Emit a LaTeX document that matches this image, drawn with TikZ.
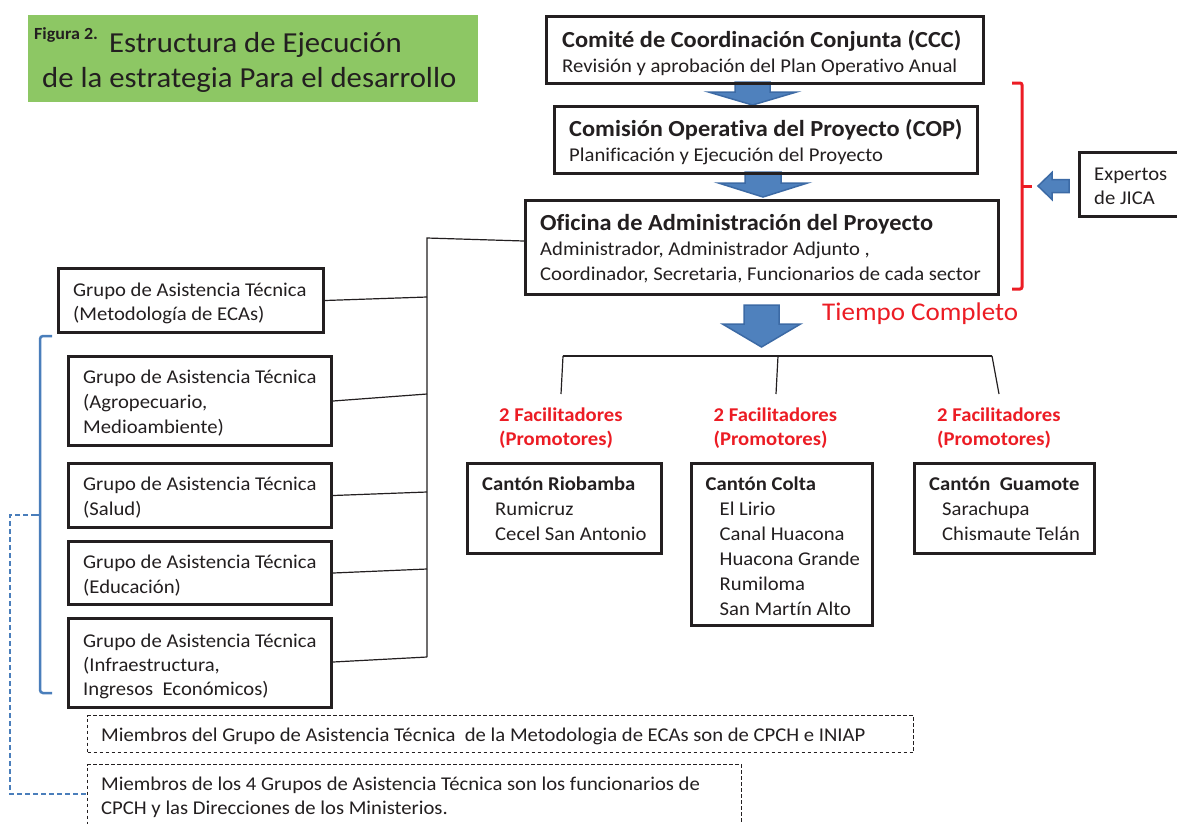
\documentclass[tikz,border=0pt]{standalone}
\usepackage{fontspec}
\setmainfont{Carlito}[FakeStretch=1.06, Ligatures={NoCommon}]
\usetikzlibrary{calc}
\definecolor{ink}{HTML}{231F20}
\definecolor{titlegreen}{HTML}{8DC764}
\definecolor{arrowblue}{HTML}{4F81BD}
\definecolor{arrowedge}{HTML}{3C6AA5}
\definecolor{bracketblue}{HTML}{4A7EBB}
\definecolor{alertred}{HTML}{EC1C24}
\newcommand\bodyfont{\fontsize{19.5}{25}\selectfont}
\newcommand\bodyfontb{\fontsize{19.5}{24}\selectfont}
\newcommand\headfont{\fontsize{23}{25}\selectfont\bfseries}
\newcommand\blockdown[6]{\draw[blockarrow] (#1-#3,#2) -- (#1+#3,#2) -- (#1+#3,#4) -- (#1+#5,#4) -- (#1,#6) -- (#1-#5,#4) -- (#1-#3,#4) -- cycle;}
\begin{document}
\begin{tikzpicture}[x=1pt,y=-1pt,
  box/.style={draw=ink, line width=3pt, inner sep=0pt, anchor=north west},
  txt/.style={inner sep=0pt, anchor=north west, align=left, font=\bodyfont, text=ink},
  wire/.style={draw=ink, line width=1.2pt},
  blockarrow/.style={fill=arrowblue, draw=arrowedge, line width=1.5pt, line join=miter},
  notebox/.style={draw=ink, line width=1.1pt, dash pattern=on 3.5pt off 2.5pt, inner sep=0pt, anchor=north west},
  redbrace/.style={draw=alertred, line width=3pt, rounded corners=2pt},
  bluebrace/.style={draw=bracketblue, line width=2.5pt, rounded corners=3pt},
  bluedash/.style={draw=bracketblue, line width=1.5pt, dash pattern=on 5pt off 3pt},
  factxt/.style={inner sep=0pt, anchor=north west, align=left, font=\bodyfontb\bfseries, text=alertred},
]
\useasboundingbox (0,0) rectangle (1177,823);
\fill[white] (0,0) rectangle (1177,823);

% title
\node[fill=titlegreen, inner sep=0pt, anchor=north west, minimum width=450pt, minimum height=87pt] (title) at (28,15) {};
\node[anchor=base west, inner sep=0pt, font=\fontsize{17}{20}\selectfont\bfseries, text=ink] (fig) at (34,39) {Figura 2.};
\node[anchor=base west, inner sep=0pt, font=\fontsize{29}{35}\selectfont, text=ink] (title1) at (109,52) {Estructura de Ejecución};
\node[anchor=base west, inner sep=0pt, font=\fontsize{29}{35}\selectfont, text=ink] (title2) at (42,87) {de la estrategia Para el desarrollo};

% block arrows
\blockdown{752.5}{82}{17.5}{92}{44}{105}
\blockdown{763}{172}{18}{183}{44.5}{197}
\blockdown{761.5}{305}{17.5}{324}{39}{347}
\draw[blockarrow] (1038,186) -- (1052,172.5) -- (1052,179.5) -- (1069,179.5) -- (1069,192.5) -- (1052,192.5) -- (1052,199.5) -- cycle;

% top boxes
\node[box, minimum width=437pt, minimum height=67pt] (ccc) at (545,15) {};
\node[txt] (ccct) at (562,29.5) {\strut{\headfont Comité de Coordinación Conjunta (CCC)}\\Revisión y aprobación del Plan Operativo Anual};
\node[box, minimum width=423pt, minimum height=67pt] (cop) at (553,105) {};
\node[txt] (copt) at (569,118.5) {\strut{\headfont Comisión Operativa del Proyecto (COP)}\\Planificación y Ejecución del Proyecto};
\node[box, minimum width=473pt, minimum height=94pt] (ofi) at (524,199) {};
\node[txt] (ofit) at (540,212.5) {\strut{\headfont Oficina de Administración del Proyecto}\\Administrador, Administrador Adjunto ,\\Coordinador, Secretaria, Funcionarios de cada sector};

% experts
\node[box, minimum width=130pt, minimum height=64pt] (jica) at (1078,151) {};
\node[txt, font=\bodyfontb] (jicat) at (1094,163.2) {\strut Expertos\\de JICA};
\draw[redbrace] (1012,83) -- (1022,83) -- (1022,289) -- (1012,289);
\draw[redbrace] (1022,186) -- (1032,186);

\node[anchor=base west, inner sep=0pt, font=\fontsize{25.5}{30}\selectfont, text=alertred] (tiempo) at (822,320) {Tiempo Completo};

% tree
\coordinate (tL) at (563,356);
\coordinate (tM) at (778,356);
\coordinate (tR) at (992,356);
\coordinate (dL) at (561,394);
\coordinate (dM) at (776,394);
\coordinate (dR) at (999,394);
\draw[wire] (tL) -- (tM) -- (tR);
\draw[wire] (tL) -- (dL);
\draw[wire] (tM) -- (dM);
\draw[wire] (tR) -- (dR);

\node[factxt] (fac1) at (499,404.2) {\strut 2 Facilitadores\\(Promotores)};
\node[factxt] (fac2) at (713.5,404.2) {\strut 2 Facilitadores\\(Promotores)};
\node[factxt] (fac3) at (937,404.2) {\strut 2 Facilitadores\\(Promotores)};

\node[box, minimum width=194pt, minimum height=90pt] (rio) at (466,462) {};
\node[txt] (riot) at (482,472.5) {\strut\textbf{Cantón Riobamba}\\\hspace*{13pt}Rumicruz\\\hspace*{13pt}Cecel San Antonio};
\node[box, minimum width=181pt, minimum height=162pt] (colta) at (690,462) {};
\node[txt] (coltat) at (705.5,472.5) {\strut\textbf{Cantón Colta}\\\hspace*{14pt}El Lirio\\\hspace*{14pt}Canal Huacona\\\hspace*{14pt}Huacona Grande\\\hspace*{14pt}Rumiloma\\\hspace*{14pt}San Martín Alto};
\node[box, minimum width=180pt, minimum height=90pt] (guam) at (913,462) {};
\node[txt] (guamt) at (929,472.5) {\strut\textbf{Cantón\ \ Guamote}\\\hspace*{13pt}Sarachupa\\\hspace*{13pt}Chismaute Telán};

% technical groups
\node[box, minimum width=265pt, minimum height=64pt] (gat1) at (57,267) {};
\node[txt, font=\bodyfontb] (gat1t) at (73,279.2) {\strut Grupo de Asistencia Técnica\\(Metodología de ECAs)};
\node[box, minimum width=263pt, minimum height=89pt] (gat2) at (67,355) {};
\node[txt] (gat2t) at (83,365.5) {\strut Grupo de Asistencia Técnica\\(Agropecuario,\\Medioambiente)};
\node[box, minimum width=263pt, minimum height=64pt] (gat3) at (67,462) {};
\node[txt] (gat3t) at (83,472.5) {\strut Grupo de Asistencia Técnica\\(Salud)};
\node[box, minimum width=263pt, minimum height=63pt] (gat4) at (67,540) {};
\node[txt] (gat4t) at (83,550.5) {\strut Grupo de Asistencia Técnica\\(Educación)};
\node[box, minimum width=263pt, minimum height=89pt] (gat5) at (67,617) {};
\node[txt, font=\bodyfontb] (gat5t) at (83,630.2) {\strut Grupo de Asistencia Técnica\\(Infraestructura,\\Ingresos\ \ Económicos)};

% bus
\coordinate (busTop) at (427,238);
\coordinate (busBot) at (427,657);
\coordinate (b1) at (427,297);
\coordinate (b2) at (427,394);
\coordinate (b3) at (427,492);
\coordinate (b4) at (427,569);
\draw[wire] ($(ofi.north west)+(0,42)$) -- (busTop) -- (busBot);
\draw[wire] (gat1.east) -- (b1);
\draw[wire] (gat2.east) -- (b2);
\draw[wire] (gat3.east) -- (b3);
\draw[wire] (gat4.east) -- (b4);
\draw[wire] ($(gat5.north east)+(0,45)$) -- (busBot);

% blue brace and dashed link
\draw[bluebrace] (52,336) -- (40,336) -- (40,693) -- (52,693);
\draw[bluebrace] (40,515) -- (35,515);

% notes
\node[notebox, minimum width=826pt, minimum height=37pt] (note1) at (87,715) {};
\node[anchor=base west, inner sep=0pt, font=\bodyfont, text=ink] (note1t) at (101,741) {Miembros del Grupo de Asistencia Técnica\ \ de la Metodologia de ECAs son de CPCH e INIAP};
\node[notebox, minimum width=654pt, minimum height=75pt] (note2) at (87,764) {};
\node[txt, font=\bodyfontb] (note2t) at (101,773.2) {\strut Miembros de los 4 Grupos de Asistencia Técnica son los funcionarios de\\CPCH y las Direcciones de los Ministerios.};

\coordinate (dashA) at (36,515);
\coordinate (dashB) at (10,515);
\coordinate (dashC) at (10,794);
\draw[bluedash] (dashA) -- (dashB) -- (dashC) -- (note2.west |- dashC);
\end{tikzpicture}
\end{document}
